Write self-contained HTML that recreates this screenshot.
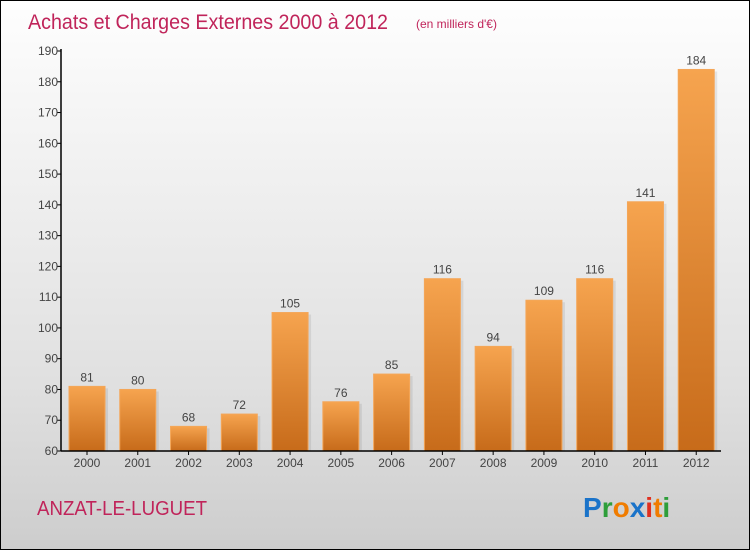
<!DOCTYPE html>
<html><head><meta charset="utf-8"><style>
html,body{margin:0;padding:0}
#c{width:748px;height:548px;border:1px solid #000;background:linear-gradient(#fefefe,#f3f3f3 25%,#e0e0e0 70%,#cdcdcd);position:relative;font-family:"Liberation Sans",sans-serif}
</style></head><body>
<div id="c">
<svg width="748" height="548" id="svg">
<defs>
<linearGradient id="bg" x1="0" y1="0" x2="0" y2="1"><stop offset="0" stop-color="#f6a44f"/><stop offset="1" stop-color="#c76b1a"/></linearGradient>
</defs>
<text x="27" y="28" font-size="21" fill="#c0245a" textLength="360" lengthAdjust="spacingAndGlyphs">Achats et Charges Externes 2000 à 2012</text>
<text x="415" y="27" font-size="12" fill="#c0245a">(en milliers d'€)</text>
<text x="36" y="514" font-size="20" fill="#c0245a" textLength="170" lengthAdjust="spacingAndGlyphs">ANZAT-LE-LUGUET</text>
<g font-size="28" font-weight="bold" font-family="'Liberation Sans',sans-serif">
<text x="582" y="516"><tspan fill="#1a73c9">P</tspan><tspan fill="#2e9e3a">r</tspan><tspan fill="#f07c00">o</tspan><tspan fill="#1a73c9">x</tspan><tspan fill="#e03020">i</tspan><tspan fill="#f07c00">t</tspan><tspan fill="#2e9e3a">i</tspan></text>
</g>
<g id="plot"></g>
</svg>
</div>
<script>
const years=["2000","2001","2002","2003","2004","2005","2006","2007","2008","2009","2010","2011","2012"];
const values=[81,80,68,72,105,76,85,116,94,109,116,141,184];
const yTicks=[60,70,80,90,100,110,120,130,140,150,160,170,180,190];
const NS="http://www.w3.org/2000/svg";
const g=document.getElementById('plot');
const x0=60,x1=720,yb=450,yt=50,vmin=60,vmax=190;
const slot=(x1-x0)/years.length;
function y(v){return yb-(v-vmin)/(vmax-vmin)*(yb-yt);}
function xs(i){return x0+i*slot;}
function mk(t,a){const e=document.createElementNS(NS,t);for(const k in a)e.setAttribute(k,a[k]);g.appendChild(e);return e;}
yTicks.forEach(t=>{
 const l=mk('line',{x1:x0-4,x2:x0,y1:y(t),y2:y(t),stroke:'#000'});
 
 
 const tx=mk('text',{x:x0-3,y:y(t)+4,'font-size':12,'text-anchor':'end',fill:'#444'});
 tx.textContent=t;
 
 
});
values.forEach((v,i)=>{
 const bx=xs(i)+8,w=36;
 const sh=mk('rect',{x:bx+3,y:y(v)+2,width:w,height:yb-y(v)-2,fill:'#000','fill-opacity':0.08});
 
 
 const r=mk('rect',{x:bx,y:y(v),width:w,height:yb-y(v),fill:'url(#bg)',stroke:'#f4a658','stroke-width':1});
 
 
 const t=mk('text',{x:bx+w/2,y:y(v)-5,'font-size':12,'text-anchor':'middle',fill:'#444'});
 t.textContent=v;
 
 
 const xt=mk('line',{x1:bx+w/2,x2:bx+w/2,y1:yb,y2:yb+4,stroke:'#000'});
 
 
 const xl=mk('text',{x:bx+w/2,y:yb+16,'font-size':12,'text-anchor':'middle',fill:'#444'});
 xl.textContent=years[i];
 
 
});
const ya=mk('line',{x1:x0,x2:x0,y1:yt-2,y2:yb,stroke:'#000','stroke-width':1.5});


const xa=mk('line',{x1:x0,x2:x1,y1:yb,y2:yb,stroke:'#000','stroke-width':1.5});


</script>
</body></html>
